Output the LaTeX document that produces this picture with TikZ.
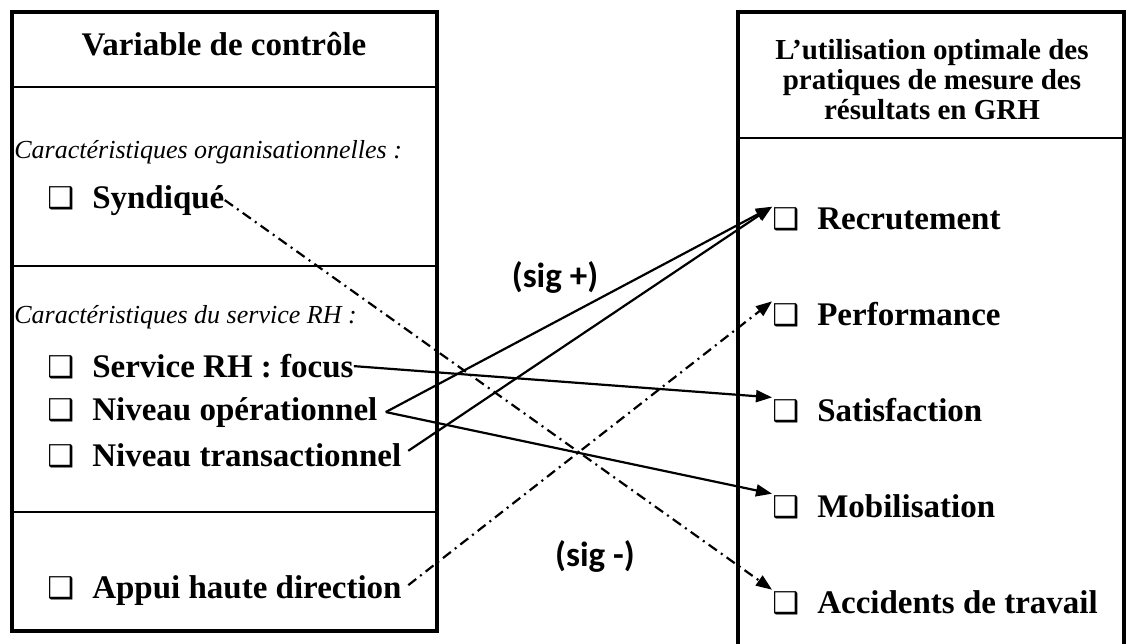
\documentclass[tikz,border=0pt]{standalone}
\usepackage{fontspec}
\setmainfont{Liberation Serif}
\newfontfamily\calibri{Carlito}
\newfontfamily\symb{DejaVu Sans}
\usetikzlibrary{positioning, arrows.meta}

% case a cocher devant chaque item
\newcommand{\boite}{{\symb\fontsize{15}{15}\selectfont ❑}\hspace{9pt}}

\begin{document}
\begin{tikzpicture}[x=0.5pt, y=-0.5pt,
	cadre/.style={line width=2pt},
	sep/.style={line width=0.9pt},
	item/.style={anchor=base west, inner sep=0pt, font=\fontsize{16.5}{19}\selectfont\bfseries},
	cat/.style={anchor=base west, inner sep=0pt, font=\fontsize{13}{15}\selectfont\itshape},
	lien/.style={line width=1.1pt, -{Triangle[length=8pt,width=6pt]}},
	neg/.style={lien, dash pattern=on 5pt off 2.5pt on 1pt off 2.5pt},
	sig/.style={font=\calibri\fontsize{17.5}{20}\selectfont\bfseries}]
	\clip (0,0) rectangle (1129,643);
	% cadre gauche
	\draw[sep] (12,87) -- (437,87) (12,266) -- (437,266) (12,512) -- (437,512);
	\draw[cadre] (12,12) rectangle (437,631);
	% cadre droit
	\draw[sep] (738,138) -- (1124,138);
	\draw[cadre] (738,660) -- (738,12) -- (1124,12) -- (1124,660);

	\node[anchor=base, font=\fontsize{16.5}{19}\selectfont\bfseries] (titreG) at (224,55) {Variable de contrôle};
	\node[align=center, font=\fontsize{14.5}{15}\selectfont\bfseries] (titreD) at (932,80) {L’utilisation optimale des\\pratiques de mesure des\\résultats en GRH};

	\node[cat] (org) at (14,158) {Caractéristiques organisationnelles :};
	\node[item] (synd) at (47,208) {\boite Syndiqué};
	\node[cat] (srh) at (14,323) {Caractéristiques du service RH :};
	\node[item] (focus) at (47,377) {\boite Service RH : focus};
	\node[item] (oper) at (47,420) {\boite Niveau opérationnel};
	\node[item] (trans) at (47,466) {\boite Niveau transactionnel};
	\node[item] (appui) at (47,598) {\boite Appui haute direction};
	\coordinate[right=4pt of oper.east] (operD);

	\node[item] (recr) at (772,229) {\boite Recrutement};
	\node[item, below=48pt of recr.base west, anchor=base west] (perf) {\boite Performance};
	\node[item, below=48pt of perf.base west, anchor=base west] (satis) {\boite Satisfaction};
	\node[item, below=48pt of satis.base west, anchor=base west] (mobil) {\boite Mobilisation};
	\node[item, below=48pt of mobil.base west, anchor=base west] (acc) {\boite Accidents de travail};

	\node[sig] (plus) at (555,277) {(sig +)};
	\node[sig] (moins) at (595,556) {(sig -)};

	% fleches vers le coin de la case
	\draw[neg] (synd.east) -- (acc.north west);
	\draw[lien] (focus.east) -- (satis.north west);
	\draw[lien] (operD) -- (recr.north west);
	\draw[lien] (operD) -- (mobil.north west);
	\draw[lien, shorten <=4pt] (trans.east) -- (recr.north west);
	\draw[neg, shorten <=4pt] (appui.east) -- (perf.north west);
\end{tikzpicture}
\end{document}
